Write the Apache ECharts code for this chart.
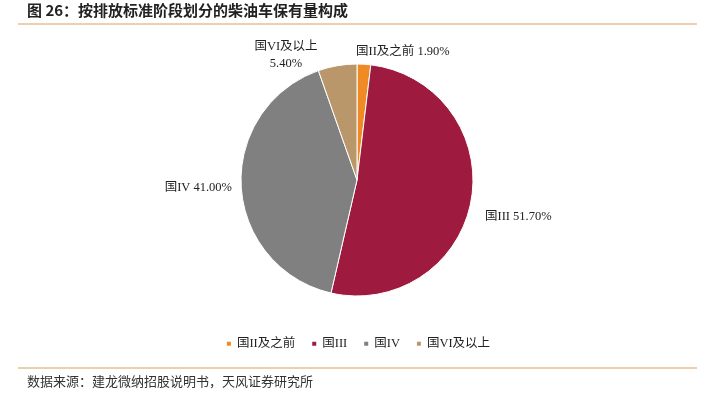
<!DOCTYPE html>
<html><head><meta charset="utf-8">
<script src="https://cdn.jsdelivr.net/npm/echarts@6/dist/echarts.min.js"></script>
<style>html,body{margin:0;padding:0;background:#fff}#c{width:715px;height:393px}</style>
</head><body><div id="c"></div>
<script>
var categories = ['国II及之前', '国III', '国IV', '国VI及以上'];
var values = [1.90, 51.70, 41.00, 5.40];
var colors = ['#F08A24', '#9E1A3E', '#808080', '#B9976A'];
var titleText = '图 26：按排放标准阶段划分的柴油车保有量构成';
var sourceText = '数据来源：建龙微纳招股说明书，天风证券研究所';

// label anchor placements (layout only)
var labelPos = [
  {x: 356, y: 52, align: 'left'},
  {x: 485, y: 217, align: 'left'},
  {x: 232, y: 188, align: 'right'},
  {x: 286, y: 55, align: 'center'}
];

var serif = '"Liberation Serif", "Times New Roman", "Noto Sans CJK SC", serif';
var chart = echarts.init(document.getElementById('c'));
chart.setOption({
  animation: false,
  color: colors,
  legend: {
    bottom: 38,
    left: 'center',
    itemWidth: 6, itemHeight: 6, icon: 'rect', itemGap: 15,
    textStyle: {fontFamily: serif, fontSize: 12.5, color: '#222'},
    data: categories
  },
  graphic: [
    {type: 'text', left: 27, top: 3, style: {text: titleText, font: 'bold 15px "Noto Sans CJK SC", sans-serif', fill: '#222'}},
    {type: 'line', shape: {x1: 18, y1: 24, x2: 697, y2: 24}, style: {stroke: '#E0A060', lineWidth: 1.2}},
    {type: 'line', shape: {x1: 18, y1: 368, x2: 697, y2: 368}, style: {stroke: '#D8A060', lineWidth: 1.2}},
    {type: 'text', left: 27, top: 375, style: {text: sourceText, font: '13px "Noto Sans CJK SC", sans-serif', fill: '#333'}}
  ],
  series: [{
    type: 'pie',
    center: [357, 180],
    radius: [0, 116],
    startAngle: 90,
    clockwise: true,
    itemStyle: {borderColor: '#fff', borderWidth: 1},
    label: {
      show: true, position: 'outside',
      fontFamily: serif, fontSize: 12.5, color: '#222',
      formatter: function (p) {
        var v = p.value.toFixed(2) + '%';
        return p.name === '国VI及以上' ? p.name + '\n' + v : p.name + ' ' + v;
      },
      lineHeight: 17
    },
    labelLine: {show: false},
    labelLayout: function (params) {
      var p = labelPos[params.dataIndex];
      return {x: p.x, y: p.y, align: p.align, verticalAlign: 'middle'};
    },
    data: categories.map(function (n, i) { return {name: n, value: values[i]}; })
  }]
});
</script></body></html>
